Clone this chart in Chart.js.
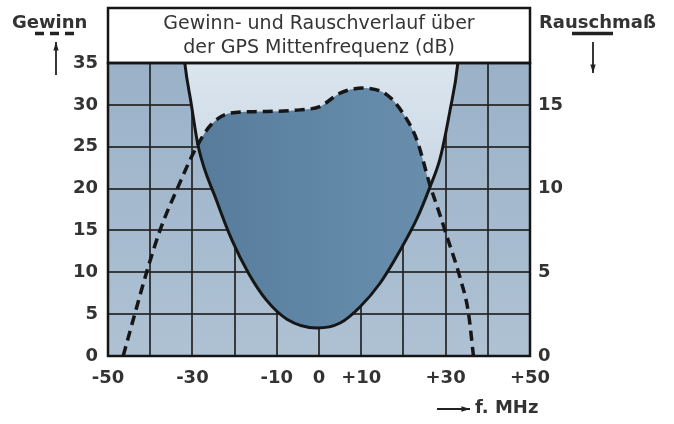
<!DOCTYPE html>
<html>
<head>
<meta charset="utf-8">
<script src="https://cdn.jsdelivr.net/npm/chart.js@4.4.0/dist/chart.umd.min.js"></script>
<style>
html, body { margin: 0; padding: 0; background: #fff; }
#wrap { width: 674px; height: 424px; }
</style>
</head>
<body>
<div id="wrap"><canvas id="gpsChart" width="674" height="424"></canvas></div>
<script>
// Gewinn in dB (linke Achse) ueber der Frequenzablage in MHz
const gainFreq   = [-46.4, -43.6, -40.5, -37.4, -33.4, -29.4, -25.8, -21.1, -14, -4.5, 0.2, 5, 10.4, 16.1, 19.9, 23.2, 26.3, 28.3, 30.5, 33.4, 35.4, 36.6];
const gainValues = [0, 5.1, 10.6, 15.4, 20.2, 24.6, 27.5, 29, 29.2, 29.4, 29.8, 31.4, 32, 31.2, 29, 25.8, 20.4, 17.4, 14, 9.4, 5.2, 0];

// Rauschmass in dB (rechte Achse)
const noiseFreq   = [-33, -31.8, -30.3, -28.6, -24.3, -20.6, -16.6, -12.5, -7.6, -0.5, 5, 9.7, 14.5, 19.2, 23.2, 26.3, 28.7, 31, 32.9, 34];
const noiseValues = [21, 17.5, 15.1, 12.5, 9.3, 6.9, 4.9, 3.35, 2.2, 1.67, 1.97, 2.93, 4.36, 6.3, 8.2, 10.1, 11.8, 14.6, 17.5, 21];

// Beschriftungen
const xLabelValues = [-50, -30, -10, 0, 10, 30, 50];
const titleLines = ['Gewinn- und Rauschverlauf über', 'der GPS Mittenfrequenz (dB)'];
const leftAxisName = 'Gewinn';
const rightAxisName = 'Rauschmaß';
const xAxisName = 'f. MHz';

const FONT = "'DejaVu Sans', sans-serif";
const TEXT = '#333333';
const gridColor = 'rgba(35,35,35,0.85)';

function toPoints(xs, ys) {
    return xs.map((x, i) => ({ x: x, y: ys[i] }));
}

function arrow(ctx, x1, y1, x2, y2) {
    const ang = Math.atan2(y2 - y1, x2 - x1);
    ctx.beginPath();
    ctx.moveTo(x1, y1);
    ctx.lineTo(x2, y2);
    ctx.stroke();
    ctx.beginPath();
    ctx.moveTo(x2, y2);
    ctx.lineTo(x2 - 9 * Math.cos(ang - 0.3), y2 - 9 * Math.sin(ang - 0.3));
    ctx.lineTo(x2 - 9 * Math.cos(ang + 0.3), y2 - 9 * Math.sin(ang + 0.3));
    ctx.closePath();
    ctx.fill();
}

// plot background (blue gradient behind everything)
const backgroundPlugin = {
    id: 'plotBackground',
    beforeDraw(chart) {
        const a = chart.chartArea;
        const ctx = chart.ctx;
        const g = ctx.createLinearGradient(0, a.top, 0, a.bottom);
        g.addColorStop(0, '#9ab1c8');
        g.addColorStop(1, '#afc2d4');
        ctx.save();
        ctx.fillStyle = g;
        ctx.fillRect(a.left, a.top, a.right - a.left, a.bottom - a.top);
        ctx.restore();
    }
};

// frames, axis names and arrows
const decorPlugin = {
    id: 'decor',
    afterDraw(chart) {
        const a = chart.chartArea;
        const ctx = chart.ctx;
        ctx.save();
        ctx.strokeStyle = '#151515';
        ctx.lineWidth = 2.5;
        ctx.strokeRect(a.left, 8, a.right - a.left, a.top - 8);
        ctx.strokeRect(a.left, a.top, a.right - a.left, a.bottom - a.top);

        ctx.fillStyle = TEXT;
        ctx.font = 'bold 18px ' + FONT;
        ctx.textBaseline = 'alphabetic';
        ctx.textAlign = 'left';
        ctx.fillText(leftAxisName, 12, 28);
        ctx.fillText(rightAxisName, 539, 28);
        ctx.fillText(xAxisName, 475, 413);

        ctx.strokeStyle = '#222';
        ctx.fillStyle = '#222';
        // dashed key under "Gewinn"
        ctx.lineWidth = 3.5;
        ctx.setLineDash([9, 6]);
        ctx.beginPath();
        ctx.moveTo(35, 33.5);
        ctx.lineTo(78, 33.5);
        ctx.stroke();
        ctx.setLineDash([]);
        // solid key under "Rauschmass"
        ctx.beginPath();
        ctx.moveTo(572, 33.5);
        ctx.lineTo(613, 33.5);
        ctx.stroke();

        ctx.lineWidth = 1.8;
        arrow(ctx, 56, 75, 56, 42);
        arrow(ctx, 593, 42, 593, 73);
        arrow(ctx, 437, 409, 470, 409);
        ctx.restore();
    }
};

const ctx = document.getElementById('gpsChart').getContext('2d');

const gpsChart = new Chart(ctx, {
    type: 'line',
    data: {
        datasets: [{
            label: 'Gewinn',
            data: toPoints(gainFreq, gainValues),
            yAxisID: 'y',
            borderColor: '#161616',
            borderWidth: 3.5,
            borderDash: [10, 6],
            pointRadius: 0,
            cubicInterpolationMode: 'monotone',
            backgroundColor: function (c) {
                const a = c.chart.chartArea;
                if (!a) return '#5d82a1';
                const g = c.chart.ctx.createLinearGradient(a.left, 0, a.right, 0);
                g.addColorStop(0.2, '#567b9b');
                g.addColorStop(0.6, '#648aa9');
                g.addColorStop(0.8, '#6a8eac');
                return g;
            },
            fill: { target: 1, below: 'rgba(0,0,0,0)' }
        }, {
            label: 'Rauschmaß',
            data: toPoints(noiseFreq, noiseValues),
            yAxisID: 'y2',
            borderColor: '#161616',
            borderWidth: 3,
            pointRadius: 0,
            cubicInterpolationMode: 'monotone',
            backgroundColor: function (c) {
                const a = c.chart.chartArea;
                if (!a) return '#cfdce7';
                const g = c.chart.ctx.createLinearGradient(0, a.top, 0, a.bottom);
                g.addColorStop(0, '#dbe5ee');
                g.addColorStop(0.5, '#c6d5e2');
                g.addColorStop(1, '#b8cad9');
                return g;
            },
            fill: 'end'
        }]
    },
    options: {
        responsive: false,
        animation: false,
        devicePixelRatio: 1,
        layout: { padding: { top: 8, left: 0, right: 0, bottom: 0 } },
        plugins: {
            legend: { display: false },
            tooltip: { enabled: false },
            filler: { drawTime: 'beforeDatasetsDraw' },
            title: {
                display: true,
                text: titleLines,
                fullSize: false,
                color: '#353535',
                font: { family: FONT, size: 19, weight: 'normal', lineHeight: '24px' },
                padding: { top: 4, bottom: 3 }
            }
        },
        scales: {
            x: {
                type: 'linear',
                min: -50,
                max: 50,
                z: 1,
                afterFit: s => { s.height = 68; },
                border: { display: false },
                grid: { color: gridColor, lineWidth: 2, drawTicks: false },
                ticks: {
                    stepSize: 10,
                    autoSkip: false,
                    maxRotation: 0,
                    padding: 12,
                    color: TEXT,
                    font: { family: FONT, size: 18, weight: 'bold' },
                    callback: v => xLabelValues.includes(v) ? (v > 0 ? '+' + v : String(v)) : ''
                }
            },
            y: {
                position: 'left',
                min: 0,
                max: 35,
                z: 1,
                afterFit: s => { s.width = 108; },
                border: { display: false },
                grid: { color: gridColor, lineWidth: 2, drawTicks: false },
                ticks: {
                    stepSize: 5,
                    padding: 10,
                    color: TEXT,
                    font: { family: FONT, size: 18, weight: 'bold' }
                }
            },
            y2: {
                position: 'right',
                min: 0,
                max: 17.5,
                z: 1,
                afterFit: s => { s.width = 144; },
                border: { display: false },
                grid: { display: false, drawTicks: false },
                ticks: {
                    stepSize: 5,
                    padding: 8,
                    color: TEXT,
                    font: { family: FONT, size: 18, weight: 'bold' },
                    callback: v => (v % 5 === 0 ? String(v) : '')
                }
            }
        }
    },
    plugins: [backgroundPlugin, decorPlugin]
});
</script>
</body>
</html>
